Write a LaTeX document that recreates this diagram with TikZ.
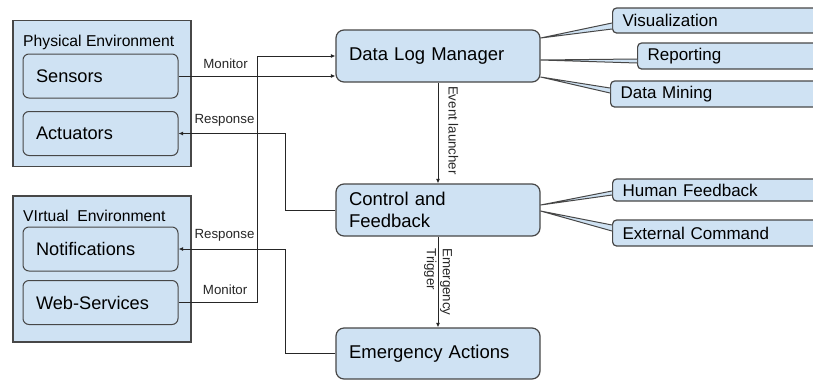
\documentclass[tikz,border=0pt]{standalone}
\usepackage{fontspec}
\setmainfont{Liberation Sans}
\usepackage{tikz}
\usetikzlibrary{arrows.meta}
\usetikzlibrary{calc}

\definecolor{boxblue}{HTML}{CFE2F3}
\definecolor{edgegray}{HTML}{474747}

\tikzset{
	envbox/.style={draw=edgegray, fill=boxblue, line width=1.2pt, inner sep=0pt, minimum width=178, minimum height=146},
	envlabel/.style={anchor=base west, inner sep=0pt, font=\fontsize{15.7}{18}\selectfont},
	devbox/.style={draw=edgegray, fill=boxblue, line width=1pt, rounded corners=6pt, align=left, text width=129, inner xsep=13, inner ysep=0pt, minimum height=44, font=\fontsize{18.2}{22}\selectfont},
	mainbox/.style={draw=edgegray, fill=boxblue, line width=1.2pt, rounded corners=8pt, align=left, text width=178, inner xsep=13, inner ysep=0pt, minimum height=52, font=\fontsize{18.5}{22}\selectfont},
	callbox/.style={draw=edgegray, fill=boxblue, line width=1.2pt, rounded corners=4pt, anchor=west, align=left, text width=200, inner xsep=10, inner ysep=0pt, minimum height=26, font=\fontsize{17}{20}\selectfont},
	wedge/.style={draw=edgegray, line width=1pt, line join=round},
	flow/.style={draw=black!85, line width=.9pt, -{Latex[length=4.5pt,width=4pt]}},
	lbl/.style={inner sep=0pt, text=black!85, font=\fontsize{13.3}{16}\selectfont},
}

\begin{document}
\begin{tikzpicture}[x=1pt, y=-1pt]
		\useasboundingbox (0,0) rectangle (813,381);
		\clip (0,0) rectangle (813,381);
		
		\node[envbox] (physenv) at (102,93.5) {};
		\node[envlabel] (physlbl) at (23,46) {Physical Environment};
		\node[devbox] (sensors) at (100.5,76) {Sensors};
		\node[devbox] (actuators) at (100.5,133.5) {Actuators};
		
		\node[envbox] (virtenv) at (102,269) {};
		\node[envlabel] (virtlbl) at (23,221) {VIrtual\ \ Environment};
		\node[devbox] (notif) at (100.5,249) {Notifications};
		\node[devbox] (websvc) at (100.5,302.5) {Web-Services};
		
		\node[mainbox] (dlm) at (438,56) {Data Log Manager};
		\node[mainbox] (ctrl) at (438,210) {Control and\\Feedback};
		\node[mainbox, minimum height=51] (emerg) at (438,353.5) {Emergency Actions};
		
		\node[callbox, minimum height=25] (vis) at (612,20.5) {Visualization};
		\node[callbox] (rep) at (637,56) {Reporting};
		\node[callbox] (mine) at (610,94) {Data Mining};
		\node[callbox, minimum height=22] (human) at (612,190) {Human Feedback};
		\node[callbox] (extcmd) at (612,233) {External Command};
		
		\foreach \src/\dst/\tip/\ua/\ub in {dlm/vis/-18/2.5/8.5, dlm/rep/4/3/7, dlm/mine/21/-6/-1, ctrl/human/-5/1/5, ctrl/extcmd/1/-8/-2}{
			\fill[boxblue] ($(\src.east)+(0,\tip)$) -- ($(\dst.west)+(0,\ua)$) -- ($(\dst.west)+(0,\ub)$) -- cycle;
			\draw[wedge] ($(\dst.west)+(0,\ua)$) -- ($(\src.east)+(0,\tip)$) -- ($(\dst.west)+(0,\ub)$);
		}
		
		\draw[flow] (sensors.east) -- node[lbl, above=7pt, pos=.3] {Monitor} (sensors.east -| dlm.west);
		\draw[flow] (websvc.east) -- node[lbl, above=7pt, pos=.59] {Monitor} ++(79,0) |- (dlm.west);
		\draw[flow] (ctrl.west) -- ++(-50,0) |- node[lbl, above=7pt, pos=.785] {Response} (actuators.east);
		\draw[flow] (emerg.west) -- ++(-50,0) |- node[lbl, above=7pt, pos=.785] {Response} (notif.east);
		
		\draw[flow] (dlm.south) -- (ctrl.north) node[lbl, pos=.475, rotate=-90, anchor=south, inner ysep=10pt] {Event launcher};
		\draw[flow] (ctrl.south) -- (emerg.north) node[lbl, pos=.5, rotate=-90, align=left] {Emergency\\Trigger};
		\end{tikzpicture}
\end{document}
